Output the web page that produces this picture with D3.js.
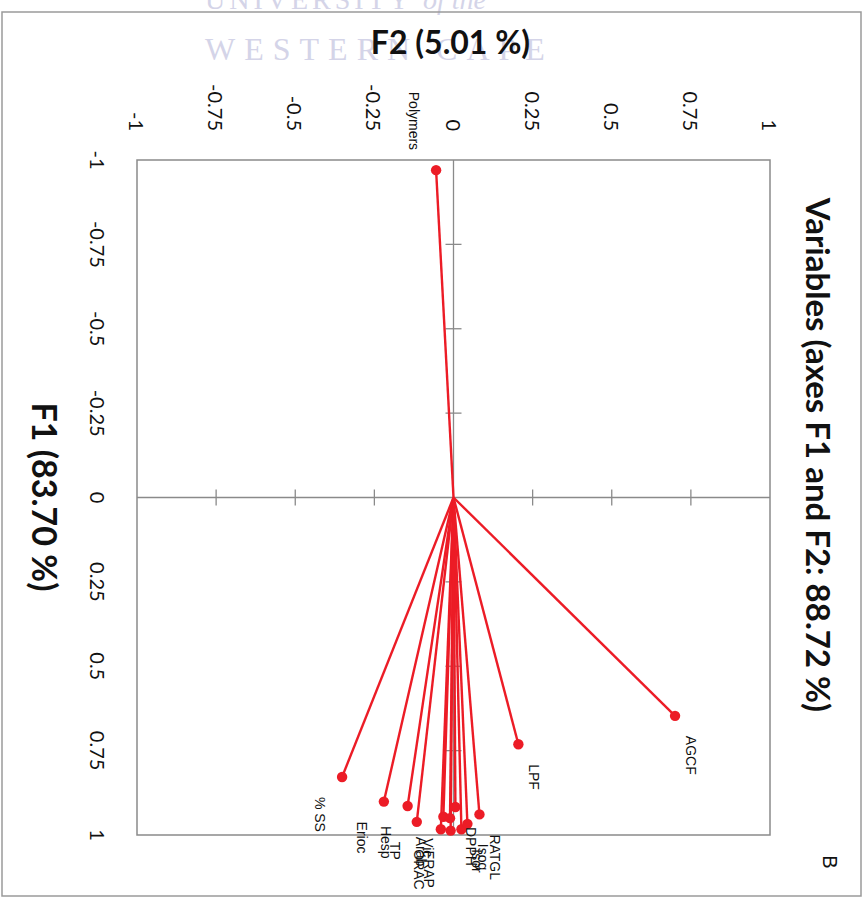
<!DOCTYPE html>
<html>
<head>
<meta charset="utf-8">
<script src="https://cdn.jsdelivr.net/npm/d3@7/dist/d3.min.js"></script>
<style>
  html, body { margin: 0; padding: 0; background: #ffffff; }
  svg { display: block; }
</style>
</head>
<body>
<div id="chart"></div>
<script>
// ---------- data ----------
const variables = ["Polymers", "AGCF", "LPF", "% SS", "Erioc", "Hesp", "TP",
  "ORAC", "Arab", "FRAP", "Vic", "DPPH", "Isor", "Isog", "RATGL"];
const f1Values = [-0.970, 0.647, 0.731, 0.828, 0.901, 0.914, 0.961,
  0.983, 0.946, 0.987, 0.950, 0.917, 0.983, 0.967, 0.939];
const f2Values = [-0.055, 0.700, 0.205, -0.352, -0.220, -0.145, -0.116,
  -0.040, -0.032, -0.009, -0.011, 0.006, 0.025, 0.044, 0.082];
const tickValues = [-1, -0.75, -0.5, -0.25, 0, 0.25, 0.5, 0.75, 1];
const tickLabels = ["-1", "-0.75", "-0.5", "-0.25", "0", "0.25", "0.5", "0.75", "1"];
const innerTicks = [-0.75, -0.5, -0.25, 0.25, 0.5, 0.75];
const titleText = "Variables (axes F1 and F2: 88.72 %)";
const f1Title = "F1 (83.70 %)";
const f2Title = "F2 (5.01 %)";
const panelLetter = "B";

// ---------- layout ----------
const W = 866, H = 899;
const svg = d3.select("#chart").append("svg")
  .attr("width", W).attr("height", H);

const red = "#ec1c26";
const grey = "#8a8a8a";
const uiFont = "Lato, 'Open Sans', sans-serif";
const labelFont = "'Liberation Sans', Arial, sans-serif";

// watermark (page scan), drawn in page frame
const wm = svg.append("g").attr("fill", "#d4d4e8")
  .attr("font-family", "'Liberation Serif', 'DejaVu Serif', serif");
const wm1 = wm.append("text").attr("x", 205).attr("y", 9).attr("font-size", 28);
wm1.append("tspan").attr("letter-spacing", 4).text("UNIVERSITY ");
wm1.append("tspan").attr("font-style", "italic").text("of the");
wm.append("text").attr("x", 205).attr("y", 60).attr("font-size", 32)
  .attr("letter-spacing", 9).text("WESTERN CAPE");

// page frame
svg.append("rect").attr("x", 2).attr("y", 12).attr("width", 859).attr("height", 884)
  .attr("fill", "none").attr("stroke", "#9a9a9a").attr("stroke-width", 1.5);

// chart in its original orientation, rotated 90deg clockwise onto the page
const g = svg.append("g").attr("transform", `translate(${W},0) rotate(90)`);

const x = d3.scaleLinear().domain([-1, 1]).range([160, 835]);   // F1
const y = d3.scaleLinear().domain([-1, 1]).range([729, 96]);    // F2

// plot box
g.append("rect")
  .attr("x", x(-1)).attr("y", y(1))
  .attr("width", x(1) - x(-1)).attr("height", y(-1) - y(1))
  .attr("fill", "none").attr("stroke", grey).attr("stroke-width", 1.5);

// cross axes through origin
g.append("line").attr("x1", x(-1)).attr("x2", x(1)).attr("y1", y(0)).attr("y2", y(0))
  .attr("stroke", grey).attr("stroke-width", 1.3);
g.append("line").attr("x1", x(0)).attr("x2", x(0)).attr("y1", y(-1)).attr("y2", y(1))
  .attr("stroke", grey).attr("stroke-width", 1.3);

// tick marks on the cross axes
g.selectAll(".tf1").data(innerTicks).join("line")
  .attr("x1", d => x(d)).attr("x2", d => x(d))
  .attr("y1", y(0) - 8).attr("y2", y(0) + 8)
  .attr("stroke", grey).attr("stroke-width", 1.3);
g.selectAll(".tf2").data(innerTicks).join("line")
  .attr("y1", d => y(d)).attr("y2", d => y(d))
  .attr("x1", x(0) - 8).attr("x2", x(0) + 8)
  .attr("stroke", grey).attr("stroke-width", 1.3);

// tick labels
g.selectAll(".lf1").data(tickValues).join("text")
  .attr("x", d => x(d)).attr("y", 768)
  .attr("text-anchor", "middle").attr("dominant-baseline", "central")
  .attr("font-family", uiFont).attr("font-size", 20).attr("fill", "#111")
  .text((d, i) => tickLabels[i]);
g.selectAll(".lf2").data(tickValues).join("text")
  .attr("x", 131).attr("y", d => y(d))
  .attr("text-anchor", "end").attr("dominant-baseline", "central")
  .attr("font-family", uiFont).attr("font-size", 20).attr("fill", "#111")
  .text((d, i) => tickLabels[i]);

// titles
g.append("text").attr("x", 455).attr("y", 47)
  .attr("text-anchor", "middle").attr("dominant-baseline", "central")
  .attr("font-family", uiFont).attr("font-weight", "bold").attr("font-size", 33)
  .attr("fill", "#111").text(titleText);
g.append("text").attr("x", 497).attr("y", 821)
  .attr("text-anchor", "middle").attr("dominant-baseline", "central")
  .attr("font-family", uiFont).attr("font-weight", "bold").attr("font-size", 34)
  .attr("fill", "#111").text(f1Title);
g.append("text")
  .attr("transform", `translate(41,${y(0) + 3}) rotate(-90)`)
  .attr("text-anchor", "middle").attr("dominant-baseline", "central")
  .attr("font-family", uiFont).attr("font-weight", "bold").attr("font-size", 32)
  .attr("fill", "#111").text(f2Title);
g.append("text").attr("x", 862).attr("y", 36)
  .attr("text-anchor", "middle").attr("dominant-baseline", "central")
  .attr("font-family", labelFont).attr("font-size", 20)
  .attr("fill", "#111").text(panelLetter);

// vectors
const pts = variables.map((name, i) => ({ name, f1: f1Values[i], f2: f2Values[i] }));
g.selectAll(".vec").data(pts).join("line")
  .attr("x1", x(0)).attr("y1", y(0))
  .attr("x2", d => x(d.f1)).attr("y2", d => y(d.f2))
  .attr("stroke", red).attr("stroke-width", 2.4);
g.selectAll(".pt").data(pts).join("circle")
  .attr("cx", d => x(d.f1)).attr("cy", d => y(d.f2)).attr("r", 5.2)
  .attr("fill", red);
g.selectAll(".lab").data(pts).join("text")
  .attr("x", d => x(d.f1) + (d.f1 >= 0 ? 20 : -20))
  .attr("y", d => y(d.f2) + (d.f2 >= 0 ? -16 : 22))
  .attr("text-anchor", d => d.f1 >= 0 ? "start" : "end")
  .attr("dominant-baseline", "central")
  .attr("font-family", labelFont).attr("font-size", 14)
  .attr("fill", "#111").text(d => d.name);
</script>
</body>
</html>
